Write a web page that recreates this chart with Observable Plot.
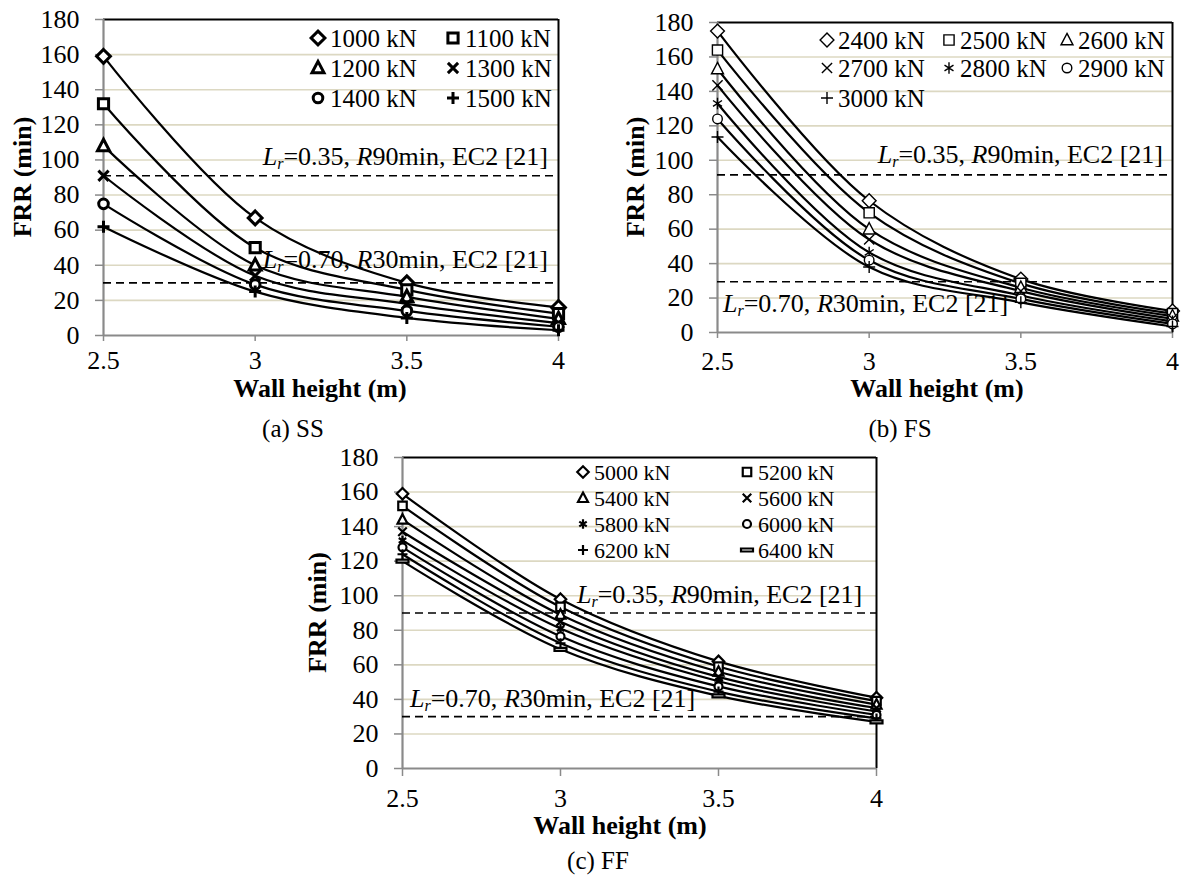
<!DOCTYPE html>
<html><head><meta charset="utf-8">
<script src="https://cdn.jsdelivr.net/npm/d3@7"></script>
<script src="https://cdn.jsdelivr.net/npm/@observablehq/plot@0.6"></script>
<style>
body{margin:0;background:#fff;}
#root{position:relative;width:1181px;height:877px;overflow:hidden;background:#fff;}
#root svg{position:absolute;}
#root svg text{font-family:"Liberation Serif","Times New Roman",serif;}
</style></head><body><div id="root"></div>
<script>
// ---------- data ----------
const heights = [2.5, 3, 3.5, 4];
const xTickLabels = ["2.5", "3", "3.5", "4"];
const yTicks = [0, 20, 40, 60, 80, 100, 120, 140, 160, 180];

// (a) SS
const ssLoads = ["1000 kN", "1100 kN", "1200 kN", "1300 kN", "1400 kN", "1500 kN"];
const ss1000 = [159, 67, 30, 16];
const ss1100 = [132, 50, 26, 12.5];
const ss1200 = [108, 40, 22, 9.5];
const ss1300 = [91, 34, 18, 7];
const ss1400 = [75, 29, 14, 5];
const ss1500 = [62, 25, 10, 3];
const ssRefs = [91, 30];

// (b) FS
const fsLoads = ["2400 kN", "2500 kN", "2600 kN", "2700 kN", "2800 kN", "2900 kN", "3000 kN"];
const fs2400 = [175, 76.5, 31, 12.5];
const fs2500 = [164, 69.5, 28.5, 11];
const fs2600 = [153, 60, 26, 9.5];
const fs2700 = [143.5, 54, 24, 8];
const fs2800 = [133, 46.5, 21.5, 6.5];
const fs2900 = [124, 42, 19.5, 5];
const fs3000 = [113.5, 38, 17.5, 3.5];
const fsRefs = [91.5, 29.5];

// (c) FF
const ffLoads = ["5000 kN", "5200 kN", "5400 kN", "5600 kN", "5800 kN", "6000 kN", "6200 kN", "6400 kN"];
const ff5000 = [159, 98, 62, 41];
const ff5200 = [152, 93.5, 59, 39];
const ff5400 = [144, 89, 56, 37];
const ff5600 = [137, 85, 53, 35];
const ff5800 = [132, 81, 50.5, 33];
const ff6000 = [128, 76.5, 47.5, 31];
const ff6200 = [124, 72.5, 44.5, 29];
const ff6400 = [120, 69, 42, 27];
const ffRefs = [90, 30];

const refLr = ["0.35", "0.70"];
const refR = ["90", "30"];
const captions = ["(a) SS", "(b) FS", "(c) FF"];

// ---------- symbols ----------
function sym(fn) { return {draw(c, size) { fn(c, Math.sqrt(size / Math.PI)); }}; }
const SYM = {
  diamond: sym((c, r) => { const d = r * 1.15; c.moveTo(0, -d); c.lineTo(d, 0); c.lineTo(0, d); c.lineTo(-d, 0); c.closePath(); }),
  square: sym((c, r) => { const s = r * 0.85; c.rect(-s, -s, 2 * s, 2 * s); }),
  triangle: sym((c, r) => { const h = r; c.moveTo(0, -h * 1.1); c.lineTo(h, h * 0.8); c.lineTo(-h, h * 0.8); c.closePath(); }),
  times: sym((c, r) => { const s = r * 0.85; c.moveTo(-s, -s); c.lineTo(s, s); c.moveTo(s, -s); c.lineTo(-s, s); }),
  circle: sym((c, r) => { const s = r * 0.8; c.moveTo(s, 0); c.arc(0, 0, s, 0, 2 * Math.PI); }),
  plus: sym((c, r) => { const s = r; c.moveTo(-s, 0); c.lineTo(s, 0); c.moveTo(0, -s); c.lineTo(0, s); }),
  asterisk: sym((c, r) => { const s = r * 0.95, t = r * 0.75; c.moveTo(0, -s); c.lineTo(0, s); c.moveTo(-t, -t * 0.65); c.lineTo(t, t * 0.65); c.moveTo(t, -t * 0.65); c.lineTo(-t, t * 0.65); }),
  dash: sym((c, r) => { const w = r * 1.2, h = r * 0.3; c.rect(-w, -h, 2 * w, 2 * h); })
};

const FONT = "'Liberation Serif', 'Times New Roman', serif";
const GRID = "#dcd8c2";
const AXIS = "#8a8a8a";

function rowsOf(loads, series) {
  const rows = [];
  loads.forEach((l, i) => series[i].forEach((v, j) => rows.push({load: l, h: heights[j], frr: v})));
  return rows;
}

function refLabel(g, x, y, anchor, lr, rmin) {
  const t = g.append("text").attr("x", x).attr("y", y).attr("text-anchor", anchor)
    .attr("font-size", 26).attr("fill", "black");
  t.append("tspan").attr("font-style", "italic").text("L");
  t.append("tspan").attr("font-style", "italic").attr("font-size", 16).attr("dy", 4).text("r");
  t.append("tspan").attr("dy", -4).text("=" + lr + ", ");
  t.append("tspan").attr("font-style", "italic").text("R");
  t.append("tspan").text(rmin + "min, EC2 [21]");
}

function makePanel(cfg) {
  const rows = rowsOf(cfg.loads, cfg.series);
  const plot = Plot.plot({
    width: cfg.W, height: cfg.H,
    marginLeft: cfg.m[0], marginRight: cfg.m[1], marginTop: cfg.m[2], marginBottom: cfg.m[3],
    style: {fontFamily: FONT, fontSize: "26px", color: "black", background: "transparent", overflow: "visible"},
    x: {domain: [heights[0], heights[heights.length - 1]]},
    y: {domain: [yTicks[0], yTicks[yTicks.length - 1]]},
    symbol: {domain: cfg.loads, range: cfg.symbols},
    marks: [
      Plot.ruleY(yTicks.filter(v => v > yTicks[0] && v < yTicks[yTicks.length - 1]), {stroke: GRID, strokeWidth: 1.6}),
      Plot.ruleY([yTicks[yTicks.length - 1]], {stroke: "black", strokeWidth: 2}),
      Plot.ruleX([heights[heights.length - 1]], {stroke: "black", strokeWidth: 2}),
      Plot.ruleX([heights[0]], {stroke: AXIS, strokeWidth: 2.2}),
      Plot.ruleY([yTicks[0]], {stroke: AXIS, strokeWidth: 2.2}),
      Plot.axisY({ticks: yTicks, tickSize: 8, tickPadding: 16, stroke: AXIS, strokeWidth: 1.5, fill: "black", label: null, fontSize: 26}),
      Plot.axisX({ticks: heights, tickSize: cfg.xt[0], tickPadding: cfg.xt[1], stroke: AXIS, strokeWidth: 1.5, fill: "black", label: null, fontSize: 26,
                  tickFormat: d => xTickLabels[heights.indexOf(d)]}),
      Plot.ruleY(cfg.refs, {stroke: "black", strokeWidth: 1.6, strokeDasharray: "8,5"}),
      Plot.line(rows, {x: "h", y: "frr", z: "load", curve: "catmull-rom", stroke: "black", strokeWidth: 2.2}),
      Plot.dot(rows, {x: "h", y: "frr", symbol: "load", r: cfg.r, stroke: "black", strokeWidth: cfg.sw, fill: "white"})
    ]
  });
  plot.style.left = cfg.left + "px";
  plot.style.top = cfg.top + "px";
  const svg = d3.select(plot);
  const ys = plot.scale("y");
  const fl = cfg.m[0], fr = cfg.W - cfg.m[1], ft = cfg.m[2], fb = cfg.H - cfg.m[3];
  // reference labels
  cfg.refs.forEach((v, i) => {
    const p = cfg.refPos[i];
    const x = p.anchor === "end" ? fr - p.dx : fl + p.dx;
    refLabel(svg, x, ys.apply(v) + p.dy, p.anchor, refLr[i], refR[i]);
  });
  // legend
  const lg = svg.append("g");
  cfg.loads.forEach((l, i) => {
    const col = i % cfg.legend.cols.length, row = Math.floor(i / cfg.legend.cols.length);
    const x = cfg.legend.cols[col], y = cfg.legend.rows[row];
    lg.append("path").attr("d", d3.symbol(cfg.symbols[i], Math.PI * cfg.r * cfg.r)())
      .attr("transform", `translate(${x},${y})`).attr("stroke", "black").attr("stroke-width", cfg.sw).attr("fill", "white");
    lg.append("text").attr("x", x + cfg.legend.gap).attr("y", y).attr("dy", "0.35em").attr("text-anchor", "start")
      .attr("font-size", cfg.legend.fs).attr("fill", "black").text(l);
  });
  // axis titles and caption
  svg.append("text").attr("transform", `translate(${cfg.yLabelX},${(ft + fb) / 2}) rotate(-90)`)
    .attr("text-anchor", "middle").attr("dy", "0.35em").attr("font-weight", "bold")
    .attr("font-size", 26).attr("fill", "black").text("FRR (min)");
  svg.append("text").attr("x", cfg.xLabelX).attr("y", fb + cfg.xLabelDy).attr("text-anchor", "middle").attr("dy", "0.35em")
    .attr("font-weight", "bold").attr("font-size", 26).attr("fill", "black").text("Wall height (m)");
  svg.append("text").attr("x", cfg.capX).attr("y", fb + cfg.capDy).attr("text-anchor", "middle").attr("dy", "0.35em")
    .attr("font-size", 25).attr("fill", "black").text(cfg.caption);
  document.getElementById("root").appendChild(plot);
}

makePanel({
  loads: ssLoads, series: [ss1000, ss1100, ss1200, ss1300, ss1400, ss1500], refs: ssRefs,
  symbols: [SYM.diamond, SYM.square, SYM.triangle, SYM.times, SYM.circle, SYM.plus],
  r: 6, sw: 3, left: 0, top: 0, W: 580, H: 440, m: [103, 22, 19, 105], xt: [6, 9],
  refPos: [{anchor: "end", dx: 10, dy: -10}, {anchor: "end", dx: 10, dy: -14}],
  legend: {cols: [318, 453], rows: [38, 68, 98], gap: 12, fs: 25},
  yLabelX: 22, xLabelX: 320, xLabelDy: 53, capX: 293, capDy: 93, caption: captions[0]
});
makePanel({
  loads: fsLoads, series: [fs2400, fs2500, fs2600, fs2700, fs2800, fs2900, fs3000], refs: fsRefs,
  symbols: [SYM.diamond, SYM.square, SYM.triangle, SYM.times, SYM.asterisk, SYM.circle, SYM.plus],
  r: 6, sw: 1.4, left: 590, top: 0, W: 591, H: 440, m: [127, 9, 22, 108], xt: [6, 13],
  refPos: [{anchor: "end", dx: 9, dy: -11}, {anchor: "start", dx: 6, dy: 31}],
  legend: {cols: [237, 359, 477], rows: [40, 68, 98], gap: 11, fs: 25},
  yLabelX: 45, xLabelX: 347, xLabelDy: 56, capX: 310, capDy: 96, caption: captions[1]
});
makePanel({
  loads: ffLoads, series: [ff5000, ff5200, ff5400, ff5600, ff5800, ff6000, ff6200, ff6400], refs: ffRefs,
  symbols: [SYM.diamond, SYM.square, SYM.triangle, SYM.times, SYM.asterisk, SYM.circle, SYM.plus, SYM.dash],
  r: 5, sw: 2.2, left: 290, top: 430, W: 600, H: 447, m: [112, 14, 27, 109], xt: [8, 12],
  refPos: [{anchor: "start", dx: 175, dy: -10}, {anchor: "start", dx: 8, dy: -9}],
  legend: {cols: [293, 457], rows: [42, 68, 94, 120], gap: 11, fs: 22},
  yLabelX: 27, xLabelX: 330, xLabelDy: 57, capX: 308, capDy: 92, caption: captions[2]
});
</script>
</body></html>
